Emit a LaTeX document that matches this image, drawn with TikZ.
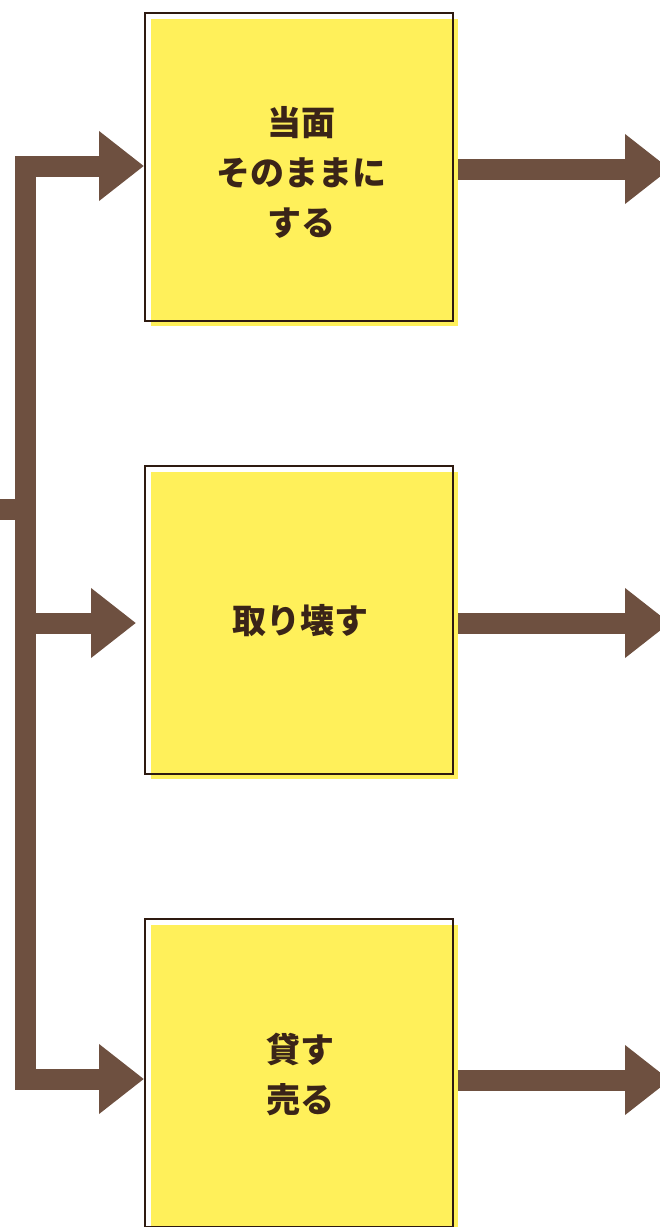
\documentclass[tikz,border=0pt]{standalone}
\usepackage{fontspec}
\newfontfamily\jp{Noto Sans CJK JP}
\usetikzlibrary{arrows.meta}
\definecolor{arrbrown}{RGB}{110,80,64}
\definecolor{boxyellow}{RGB}{255,240,90}
\definecolor{edgebrown}{RGB}{46,26,16}
\definecolor{textbrown}{RGB}{58,36,24}
\tikzset{
  x=1pt, y=-1pt,
  bar/.style={draw=arrbrown, line width=21pt, line join=miter},
  head/.style={-{Triangle[width=67pt,length=45pt]}},
  both/.style={{Triangle[width=67pt,length=45pt]}-{Triangle[width=67pt,length=45pt]}},
  yfill/.style={fill=boxyellow, draw=none, minimum width=307pt, minimum height=307pt, inner sep=0pt, anchor=north west},
  boxline/.style={draw=edgebrown, line width=1.8pt, fill=none, minimum width=308pt, minimum height=308pt, inner sep=0pt, anchor=north west},
  lbl/.style={text=textbrown, font=\jp\bfseries\fontsize{34}{50}\selectfont, align=center, inner sep=0pt}
}
\begin{document}
\begin{tikzpicture}
\useasboundingbox (0,0) rectangle (660,1227);
\clip (0,0) rectangle (660,1227);
% yellow fills (offset) and outlines
\node[yfill] (f1) at (151,19) {};
\node[yfill] (f2) at (151,472) {};
\node[yfill] (f3) at (151,925) {};
\node[boxline] (b1) at (144,12) {};
\node[boxline] (b2) at (144,465) {};
\node[boxline] (b3) at (144,918) {};
% labels
\node[lbl] (t1) at (301,172) {当面\\そのままに\\する};
\node[lbl] (t2) at (300,621) {取り壊す};
\node[lbl] (t3) at (300,1074) {貸す\\売る};
% left tree
\coordinate (in) at (0,509);
\coordinate (j) at (25,509);
\coordinate (c1) at (25,166);
\coordinate (c2) at (25,623);
\coordinate (c3) at (25,1079);
\draw[bar, both] (b1.west |- c1) -- (c1) -- (c3) -- (b3.west |- c3);
\draw[bar] (in) -- (j);
\draw[bar, head] (c2) -- ([xshift=-8pt]b2.west |- c2);
% right arrows
\coordinate (r1) at (670,169);
\coordinate (r2) at (670,623);
\coordinate (r3) at (670,1080);
\draw[bar, head] (f1.east |- r1) -- (r1);
\draw[bar, head] (f2.east |- r2) -- (r2);
\draw[bar, head] (f3.east |- r3) -- (r3);
\end{tikzpicture}
\end{document}
